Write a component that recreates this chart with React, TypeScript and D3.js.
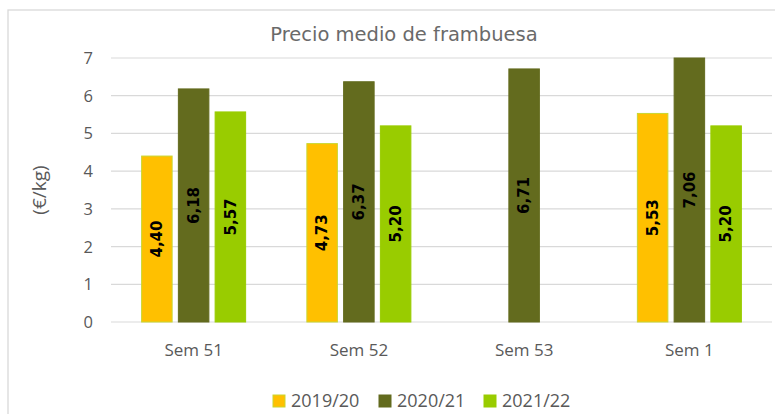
import React from "react";
import * as d3 from "d3";

const categories = ["Sem 51", "Sem 52", "Sem 53", "Sem 1"];
const seriesNames = ["2019/20", "2020/21", "2021/22"];
const s2019: (number | null)[] = [4.4, 4.73, null, 5.53];
const s2020: (number | null)[] = [6.18, 6.37, 6.71, 7.06];
const s2021: (number | null)[] = [5.57, 5.2, null, 5.2];
const yTicks = [0, 1, 2, 3, 4, 5, 6, 7];
const colors = ["#FFC000", "#636B1E", "#99CC00"];

const FONT = "'Open Sans', sans-serif";
const TITLE_FONT = "'DejaVu Sans', sans-serif";

export default function App() {
  const W = 775, H = 414;
  const left = 111, right = 772, top = 58, bottom = 322;
  const groupW = 104;
  const x0 = d3.scaleBand<string>().domain(categories).range([left, right]);
  const x1 = d3.scaleBand<string>().domain(seriesNames).range([0, groupW]).paddingInner(0.17);
  const y = d3.scaleLinear().domain([0, 7]).range([bottom, top]);
  const series = [s2019, s2020, s2021];
  const fmt = (v: number) => v.toFixed(2).replace(".", ",");
  const legendX = [273, 379, 484];

  return (
    <svg width={W} height={H} style={{ position: "absolute", left: 0, top: 0 }}>
      <rect x={0} y={0} width={W} height={H} fill="#fff" />
      <rect x={8} y={10} width={W + 20} height={H + 20} fill="#fff" stroke="#d9d9d9" strokeWidth={1.3} />
      <text x={404} y={41} textAnchor="middle" fontFamily={TITLE_FONT} fontSize={19.5} fill="#6a6a6a">
        Precio medio de frambuesa
      </text>
      {yTicks.map((t) => (
        <g key={t}>
          <line x1={left} x2={right} y1={y(t)} y2={y(t)} stroke="#d9d9d9" strokeWidth={1.2} />
          <text x={93} y={y(t)} dy="0.36em" textAnchor="end" fontFamily={FONT} fontSize={16.5} fill="#595959">
            {t}
          </text>
        </g>
      ))}
      <text transform={`translate(46,${(top + bottom) / 2}) rotate(-90)`} textAnchor="middle" fontFamily={FONT} fontSize={19} fill="#595959">
        (€/kg)
      </text>
      {categories.map((c, ci) => {
        const cx = x0(c)! + x0.bandwidth() / 2;
        return (
          <g key={c}>
            <text x={cx} y={350} dy="0.36em" textAnchor="middle" fontFamily={FONT} fontSize={17} fill="#595959">
              {c}
            </text>
            {series.map((s, si) => {
              const v = s[ci];
              if (v == null) return null;
              const bx = cx - groupW / 2 + x1(seriesNames[si])!;
              const bw = x1.bandwidth();
              const yTop = y(Math.min(v, 7));
              return (
                <g key={si}>
                  <rect x={bx} y={yTop} width={bw} height={bottom - yTop} fill={colors[si]}
                    stroke={si === 0 ? "#C9D631" : colors[si]} strokeWidth={1} />
                  <text transform={`translate(${bx + bw / 2},${(yTop + bottom) / 2}) rotate(-90)`}
                    textAnchor="middle" dy="0.35em" fontFamily="'DejaVu Sans', sans-serif" fontWeight="bold" fontSize={15} fill="#000">
                    {fmt(v)}
                  </text>
                </g>
              );
            })}
          </g>
        );
      })}
      {seriesNames.map((n, i) => (
        <g key={n}>
          <rect x={legendX[i]} y={395} width={12} height={12} fill={colors[i]} stroke={i === 0 ? "#C9D631" : colors[i]} />
          <text x={legendX[i] + 18} y={401} dy="0.36em" fontFamily={FONT} fontSize={18} fill="#595959">
            {n}
          </text>
        </g>
      ))}
    </svg>
  );
}
